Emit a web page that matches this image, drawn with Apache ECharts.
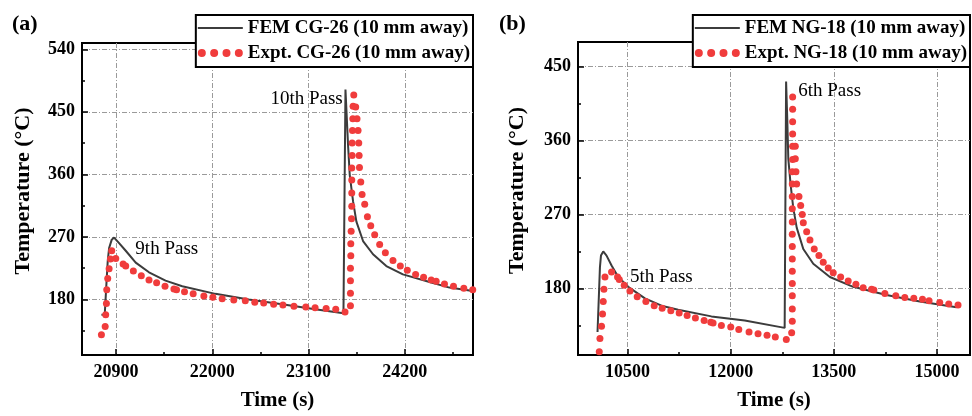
<!DOCTYPE html>
<html><head><meta charset="utf-8">
<script src="https://cdn.jsdelivr.net/npm/echarts@6/dist/echarts.min.js"></script>
<style>html,body{margin:0;padding:0;background:#fff}#c{width:972px;height:416px}</style>
</head><body><div id="c"></div>
<script>
// ---------- Panel (a) data ----------
const femA_time = [20732,20770,20789,20804,20820,20850,20877,20934,21010,21124,21276,21465,21656,22035,22416,22796,23175,23499,23518,23522,23552,23571,23609,23647,23723,23837,23989,24179,24483,24711,24977];
const femA_temp = [158,158,202,235,254,266,269,261,250,233,219,207,199,188,180,173,166,160,159,482,401,359,321,292,264,245,228,216,205,197,192];
const expA_time = [20732,20775,20781,20789,20793,20804,20820,20835,20850,20896,20980,21010,21097,21188,21276,21363,21459,21561,21591,21682,21781,21903,22006,22112,22245,22377,22485,22587,22701,22807,22933,23069,23175,23301,23411,23517,
  23579,23579,23579,23579,23583,23583,23587,23591,23594,23594,23594,23594,23598,23598,23602,23606,23609,23617,
  23639,23654,23666,23674,23678,23682,23697,23712,23742,23773,23811,23856,23913,23978,24065,24149,24229,24324,24415,24502,24559,24654,24757,24875,24977];
const expA_temp = [129,141,158,174,194,210,224,238,250,239,231,228,221,214,208,204,199,195,194,191,188,185,183,181,179,178,176,175,173,172,170,169,168,167,166,162,
  171,189,207,225,243,260,278,296,314,333,352,369,387,405,423,440,458,474,
  457,440,423,405,387,370,349,331,317,299,286,273,259,247,236,228,222,216,212,208,206,202,199,196,194];
const xTicksA = [20900,22000,23100,24200];
const xMinorA = [21450,22550,23650,24750];
const yTicksA = [180,270,360,450,540];
const yMinorA = [135,225,315,405,495];
const annoA = [['10th Pass',23491,468,'right'],['9th Pass',21120,252,'left']];

// ---------- Panel (b) data ----------
const femB_time = [10064,10085,10099,10114,10147,10195,10268,10365,10510,10753,10994,11236,11720,12205,12785,12804,12806,12823,12838,12872,12910,12960,13056,13201,13443,13782,14266,14750,15283];
const femB_temp = [127,174,206,220,225,220,208,194,182,168,159,154,146,141,132,130,432,386,338,306,278,254,228,210,194,182,172,164,157];
const expB_time = [10089,10099,10122,10137,10147,10157,10172,10268,10355,10380,10452,10535,10641,10767,10888,11004,11130,11251,11367,11487,11614,11711,11744,11865,12001,12118,12267,12398,12529,12649,12809,
  12887,12896,12896,12896,12896,12896,12896,12896,12896,12896,12896,12896,12896,12896,12901,12901,12901,12901,12901,12901,
  12940,12940,12949,12959,12993,13018,13041,13056,13105,13153,13215,13283,13346,13419,13491,13599,13709,13821,13927,14049,14082,14242,14401,14532,14663,14789,14885,15040,15171,15306];
const expB_temp = [103,119,134,149,164,179,194,200,194,191,184,177,170,164,159,156,153,150,147,144,141,139,138,135,133,130,127,125,123,121,118,
  126,140,155,171,186,201,216,231,246,261,277,292,307,322,337,353,368,383,398,413,
  353,338,322,307,292,281,270,260,249,239,228,220,212,205,199,194,189,185,181,179,178,174,171,169,168,167,165,163,161,160];
const xTicksB = [10500,12000,13500,15000];
const xMinorB = [11250,12750,14250];
const yTicksB = [180,270,360,450];
const yMinorB = [135,225,315,405];
const annoB = [['6th Pass',12983,420,'left'],['5th Pass',10535,194,'left']];

const namesA = ['FEM CG-26 (10 mm away)','Expt. CG-26 (10 mm away)'];
const namesB = ['FEM NG-18 (10 mm away)','Expt. NG-18 (10 mm away)'];

// ---------- styling ----------
const FONT = 'Liberation Serif';
const RED = '#f03c3c';
const GRAY = '#3c3c3c';
const lineIcon = 'path://M0,0H45V2H0Z';
const dotsIcon = 'path://M0,4A4,4 0 1,0 8,4A4,4 0 1,0 0,4Z M12.33,4A4,4 0 1,0 20.33,4A4,4 0 1,0 12.33,4Z M24.67,4A4,4 0 1,0 32.67,4A4,4 0 1,0 24.67,4Z M37,4A4,4 0 1,0 45,4A4,4 0 1,0 37,4Z';
const zip = (a, b) => a.map((v, i) => [v, b[i]]);

function axesX(gi, min, max, majors, minors) {
  return [{
    type: 'value', gridIndex: gi, min, max, position: 'bottom',
    name: 'Time (s)', nameLocation: 'middle', nameGap: 35,
    nameTextStyle: {fontFamily: FONT, fontWeight: 'bold', fontSize: 21, color: '#000'},
    axisLine: {show: true, onZero: false, lineStyle: {color: '#000', width: 2}},
    axisTick: {show: true, inside: true, length: 6, customValues: majors, lineStyle: {color: '#000', width: 1.5}},
    axisLabel: {show: true, customValues: majors, margin: 8, formatter: v => String(v), fontFamily: FONT, fontWeight: 'bold', fontSize: 18, color: '#000'},
    splitLine: {show: true, lineStyle: {color: '#9a9a9a', width: 1, type: [5, 2, 1, 2]}}
  }, {
    type: 'value', gridIndex: gi, min, max, position: 'bottom',
    axisLine: {show: false, onZero: false},
    axisTick: {show: true, inside: true, length: 3, customValues: minors, lineStyle: {color: '#000', width: 1.5}},
    axisLabel: {show: false}, splitLine: {show: false}
  }];
}
function axesY(gi, min, max, majors, minors, gap) {
  return [{
    type: 'value', gridIndex: gi, min, max, position: 'left',
    name: 'Temperature (°C)', nameLocation: 'middle', nameGap: gap,
    nameTextStyle: {fontFamily: FONT, fontWeight: 'bold', fontSize: 22, color: '#000', padding: [0, 0, 0, 16]},
    axisLine: {show: true, onZero: false, lineStyle: {color: '#000', width: 2}},
    axisTick: {show: true, inside: true, length: 6, customValues: majors, lineStyle: {color: '#000', width: 1.5}},
    axisLabel: {show: true, customValues: majors, margin: 7, formatter: v => String(v), fontFamily: FONT, fontWeight: 'bold', fontSize: 18, color: '#000'},
    splitLine: {show: true, lineStyle: {color: '#9a9a9a', width: 1, type: [5, 2, 1, 2]}}
  }, {
    type: 'value', gridIndex: gi, min, max, position: 'left',
    axisLine: {show: false, onZero: false},
    axisTick: {show: true, inside: true, length: 3, customValues: minors, lineStyle: {color: '#000', width: 1.5}},
    axisLabel: {show: false}, splitLine: {show: false}
  }];
}
function annoMarks(list) {
  return {
    symbol: 'circle', symbolSize: 0, silent: true,
    data: list.map(a => ({
      coord: [a[1], a[2]],
      label: {show: true, position: 'inside', formatter: a[0], align: a[3], verticalAlign: 'middle',
        fontFamily: FONT, fontSize: 19, color: '#000'}
    }))
  };
}
function legend(names, right) {
  return {
    orient: 'vertical', right, top: 15, selectedMode: false, symbolKeepAspect: true,
    data: [{name: names[0], icon: lineIcon}, {name: names[1], icon: dotsIcon}],
    itemWidth: 45, itemHeight: 8, itemGap: 5, padding: [3, 3, 4, 2],
    borderColor: '#000', borderWidth: 2, backgroundColor: '#fff',
    textStyle: {fontFamily: FONT, fontWeight: 'bold', fontSize: 19, color: '#000', lineHeight: 20}
  };
}
function seriesFor(gi, names, ft, fv, et, ev, anno) {
  return [{
    name: names[0], type: 'line', xAxisIndex: gi * 2, yAxisIndex: gi * 2,
    data: zip(ft, fv), symbol: 'none', smooth: false,
    lineStyle: {color: GRAY, width: 2}, itemStyle: {color: GRAY},
    markPoint: annoMarks(anno), z: 2
  }, {
    name: names[1], type: 'scatter', xAxisIndex: gi * 2, yAxisIndex: gi * 2,
    data: zip(et, ev), symbol: 'circle', symbolSize: 7, clip: false,
    itemStyle: {color: RED, opacity: 1}, z: 3
  }];
}

const chart = echarts.init(document.getElementById('c'), null, {renderer: 'canvas'});
chart.setOption({
  backgroundColor: '#fff',
  animation: false,
  title: [
    {text: '(a)', left: 12, top: 13, padding: 0, textStyle: {fontFamily: FONT, fontWeight: 'bold', fontSize: 22, color: '#000'}},
    {text: '(b)', left: 499, top: 13, padding: 0, textStyle: {fontFamily: FONT, fontWeight: 'bold', fontSize: 22, color: '#000'}}
  ],
  grid: [
    {left: 82, top: 43, width: 391, height: 315, show: true, borderColor: '#000', borderWidth: 2, backgroundColor: 'transparent', containLabel: false},
    {left: 578, top: 42, width: 392, height: 317, show: true, borderColor: '#000', borderWidth: 2, backgroundColor: 'transparent', containLabel: false}
  ],
  legend: [legend(namesA, 499), legend(namesB, 2)],
  xAxis: [...axesX(0, 20510, 24980, xTicksA, xMinorA), ...axesX(1, 9780, 15480, xTicksB, xMinorB)],
  yAxis: [...axesY(0, 100, 549, yTicksA, yMinorA, 48), ...axesY(1, 99, 480, yTicksB, yMinorB, 50)],
  series: [
    ...seriesFor(0, namesA, femA_time, femA_temp, expA_time, expA_temp, annoA),
    ...seriesFor(1, namesB, femB_time, femB_temp, expB_time, expB_temp, annoB)
  ]
});
</script>
</body></html>
